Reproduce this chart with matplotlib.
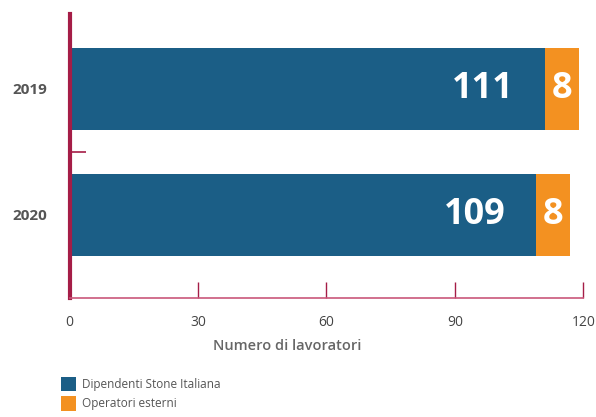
import numpy as np
import matplotlib.pyplot as plt
from matplotlib.ticker import FixedLocator

plt.rcParams['font.family'] = ['Open Sans', 'DejaVu Sans']

years = ['2019', '2020']
dipendenti = [111, 109]
esterni = [8, 8]
series_names = ['Dipendenti Stone Italiana', 'Operatori esterni']
xticks = [0, 30, 60, 90, 120]

blue = '#1b5e86'
orange = '#f39121'
crimson = '#a51d47'
pink = '#c9577a'

W, H = 596, 417
fig = plt.figure(figsize=(W / 100, H / 100), dpi=100)
ax = fig.add_axes([69.7 / W, 1 - 298.3 / H, (583.3 - 69.7) / W, (298.3 - 14) / H])

pos = np.arange(len(years))
b1 = ax.barh(pos, dipendenti, height=0.647, color=blue, label=series_names[0])
b2 = ax.barh(pos, esterni, left=dipendenti, height=0.647, color=orange, label=series_names[1])

# value labels inside the segments
for p, d, e in zip(pos, dipendenti, esterni):
    ax.text(d - 7.2, p, str(d), ha='right', va='center', color='white',
            fontsize=26, fontweight='bold')
    ax.text(d + e / 2, p, str(e), ha='center', va='center', color='white',
            fontsize=26, fontweight='bold')

ax.set_xlim(0, 120)
ax.set_ylim(1.662, -0.593)

for s in ['top', 'right']:
    ax.spines[s].set_visible(False)
ax.spines['left'].set_color(crimson)
ax.spines['left'].set_linewidth(3)
ax.spines['bottom'].set_color(pink)
ax.spines['bottom'].set_linewidth(1.2)

ax.set_xticks(xticks)
ax.tick_params(axis='x', direction='in', length=11.5, width=1, color=crimson,
               labelsize=10, labelcolor='#444444', pad=12)
ax.xaxis.get_major_ticks()[0].tick1line.set_visible(False)

ax.set_yticks(pos, years)
ax.tick_params(axis='y', length=0, labelsize=11, labelcolor='#555555', pad=16)
for lab in ax.get_yticklabels():
    lab.set_fontweight('bold')
ax.yaxis.set_minor_locator(FixedLocator([0.5]))
ax.tick_params(axis='y', which='minor', direction='in', length=11.5, width=1.2,
               color=crimson)

ax.text(0.424, -0.168, 'Numero di lavoratori', transform=ax.transAxes,
        ha='center', va='center', fontsize=10.5, fontweight='semibold',
        color='#666666')

fig.legend(handles=[b1, b2], loc='upper left',
           bbox_to_anchor=(60.7 / W, 1 - 376.7 / H), frameon=False,
           fontsize=8.5, handlelength=1.27, handleheight=1.52,
           labelspacing=0.42, handletextpad=0.55, borderpad=0,
           borderaxespad=0, labelcolor='#555555')

fig.savefig('out.png', dpi=100)
